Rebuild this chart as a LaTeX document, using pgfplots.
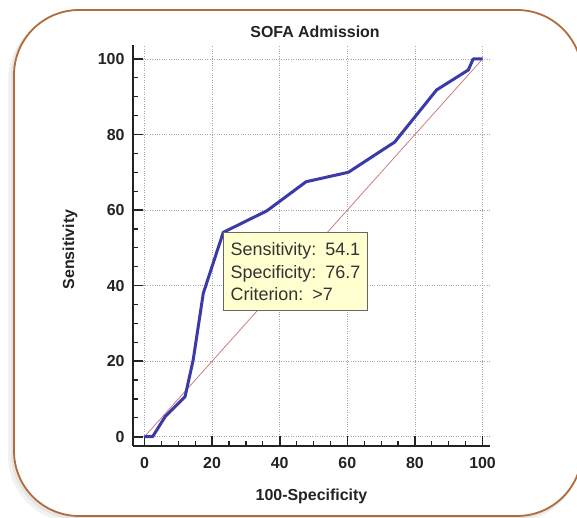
\documentclass[border=0pt]{standalone}
\usepackage{pgfplots}
\pgfplotsset{compat=1.18}
\usepackage{fontspec}
\setmainfont{Liberation Sans}
\definecolor{roc}{RGB}{58,58,168}
\definecolor{diag}{RGB}{205,125,125}
\definecolor{framec}{RGB}{178,108,58}
\definecolor{tip}{RGB}{255,255,208}
\definecolor{axisc}{RGB}{35,35,35}
\definecolor{gridc}{RGB}{165,165,175}
\begin{document}
\begin{tikzpicture}
\useasboundingbox (0,0) rectangle (577bp,518bp);
\begin{scope}
\clip (0,0) rectangle (577bp,518bp);
\fill[black!5, rounded corners=66bp] (8bp,-4bp) rectangle (580bp,504bp);
\fill[black!10, rounded corners=65bp] (11bp,-1bp) rectangle (581bp,506bp);
\filldraw[fill=white, draw=framec, line width=1.8bp, rounded corners=65bp] (14bp,2bp) rectangle (582bp,508bp);
\end{scope}
\begin{axis}[
  at={(133bp,72bp)}, anchor=south west,
  scale only axis, width=357bp, height=401bp,
  xmin=-3.4, xmax=102.2, ymin=-2.46, ymax=103.7,
  axis lines=left,
  axis line style={-, line width=2.4bp, draw=axisc},
  xtick={0,20,...,100}, ytick={0,20,...,100},
  minor tick num=3,
  tick align=inside,
  major tick length=10bp, minor tick length=5bp,
  major tick style={axisc, line width=1.6bp},
  minor tick style={axisc, line width=1.2bp},
  grid=major,
  major grid style={gridc, dotted, line width=0.7bp},
  ticklabel style={font=\fontsize{16}{18}\selectfont\bfseries, text=axisc},
  /pgf/number format/assume math mode=true,
  xticklabel style={yshift=-8bp},
  yticklabel style={xshift=-5bp},
  title={SOFA Admission},
  title style={font=\fontsize{16}{18}\selectfont\bfseries, text=axisc, at={(axis description cs:0.51,1)}, anchor=base, yshift=2bp},
  xlabel={100-Specificity},
  xlabel style={font=\fontsize{16}{18}\selectfont\bfseries, text=axisc, at={(axis description cs:0.5,0)}, anchor=base, yshift=-54bp},
  ylabel={Sensitivity},
  ylabel style={font=\fontsize{16}{18}\selectfont\bfseries, text=axisc, at={(axis description cs:-0.165,0.49)}, anchor=base},
]
\addplot[diag, line width=0.8bp] coordinates {(0,0) (100,100)};
\addplot[roc, line width=3bp, line join=round] coordinates {
(0,0) (2.4,0) (6.1,5.3) (12,10.6) (14.4,20.3) (17.4,38) (23.3,54.1)
(36.2,59.8) (47.8,67.5) (60.3,70) (74,78) (86.4,91.8) (95.8,97.1)
(97.2,100) (100,100)};
\node[draw=gray!80!black, line width=0.8bp, fill=tip, anchor=north west,
  inner sep=0pt, minimum width=144bp, minimum height=78bp, text width=130bp,
  align=left, font=\fontsize{18}{22.5}\selectfont, text=black!80]
  at (axis cs:23.3,54.1) {Sensitivity: 54.1\\Specificity: 76.7\\Criterion: >7};
\end{axis}
\end{tikzpicture}
\end{document}
